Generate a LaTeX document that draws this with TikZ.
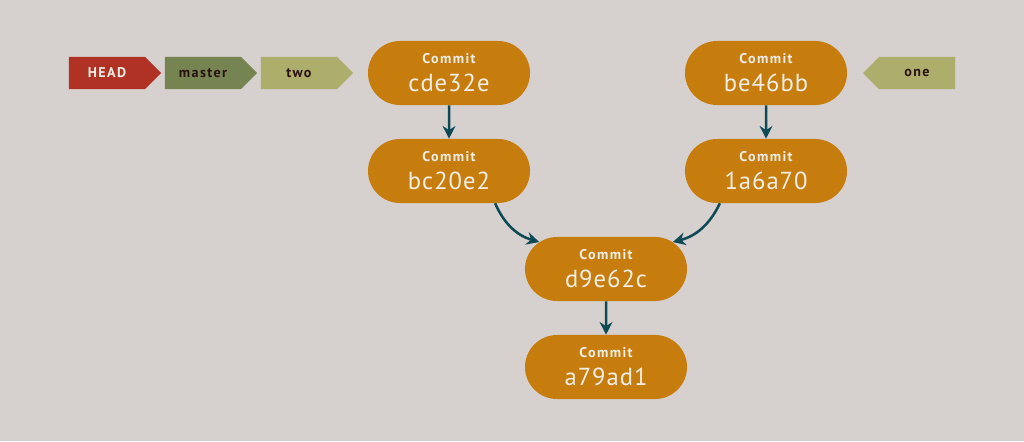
\documentclass[tikz,border=0pt]{standalone}
\usepackage{fontspec}
\setmainfont{PT Sans}
\newfontfamily\tagfont[LetterSpace=10]{PT Sans}
\newfontfamily\hashfont[LetterSpace=4]{PT Sans}
\usetikzlibrary{shapes.misc,shapes.symbols,arrows.meta}

\definecolor{bgrey}{HTML}{D6D0CE}
\definecolor{commitorange}{HTML}{C77D0E}
\definecolor{headred}{HTML}{B03224}
\definecolor{mastergreen}{HTML}{758451}
\definecolor{branchkhaki}{HTML}{ADAD6C}
\definecolor{parentteal}{HTML}{0D4A55}
\definecolor{lighttext}{HTML}{F2EEE6}
\definecolor{darktext}{HTML}{2A1010}

\tikzset{
  commit/.style={rounded rectangle, fill=commitorange, minimum width=4.05cm,
    minimum height=1.6cm, inner sep=0pt, align=center, text=lighttext,
    font=\fontsize{17.5}{20}\selectfont},
  branch/.style={signal, signal to=east, signal pointer angle=90, fill=#1,
    minimum width=2.3cm, minimum height=0.8cm, inner sep=0pt,
    font=\tagfont\bfseries\fontsize{10}{12}\selectfont, text=darktext},
  parent/.style={draw=parentteal, line width=1.8pt,
    -{Stealth[length=9pt,width=9pt]}},
}
\newcommand{\commitlabel}[1]{{\tagfont\bfseries\fontsize{10}{10}\selectfont Commit}\\{\hashfont #1}}

\begin{document}
\begin{tikzpicture}[x=0.025cm,y=-0.025cm]
  \fill[bgrey] (0,0) rectangle (1024,441); % background

  % commits
  \node[commit] (cde32e) at (449,73) {\commitlabel{cde32e}};
  \node[commit] (be46bb) at (766,73) {\commitlabel{be46bb}};
  \node[commit] (bc20e2) at (449,171) {\commitlabel{bc20e2}};
  \node[commit] (1a6a70) at (766,171) {\commitlabel{1a6a70}};
  \node[commit] (d9e62c) at (606,269) {\commitlabel{d9e62c}};
  \node[commit] (a79ad1) at (606,367) {\commitlabel{a79ad1}};

  % branches
  \node[branch=headred, text=lighttext] (head) at (107,73) {HEAD};
  \node[branch=mastergreen] (master) at (203,73) {master};
  \node[branch=branchkhaki] (two) at (299,73) {two};
  \node[branch=branchkhaki, signal to=west] (one) at (917,73) {one};

  % parents
  \draw[parent] (cde32e) -- (bc20e2);
  \draw[parent] (be46bb) -- (1a6a70);
  \draw[parent] (bc20e2.-35) to[bend right=25] (d9e62c.158);
  \draw[parent] (1a6a70.-145) to[bend left=25] (d9e62c.22);
  \draw[parent] (d9e62c) -- (a79ad1);
\end{tikzpicture}
\end{document}
